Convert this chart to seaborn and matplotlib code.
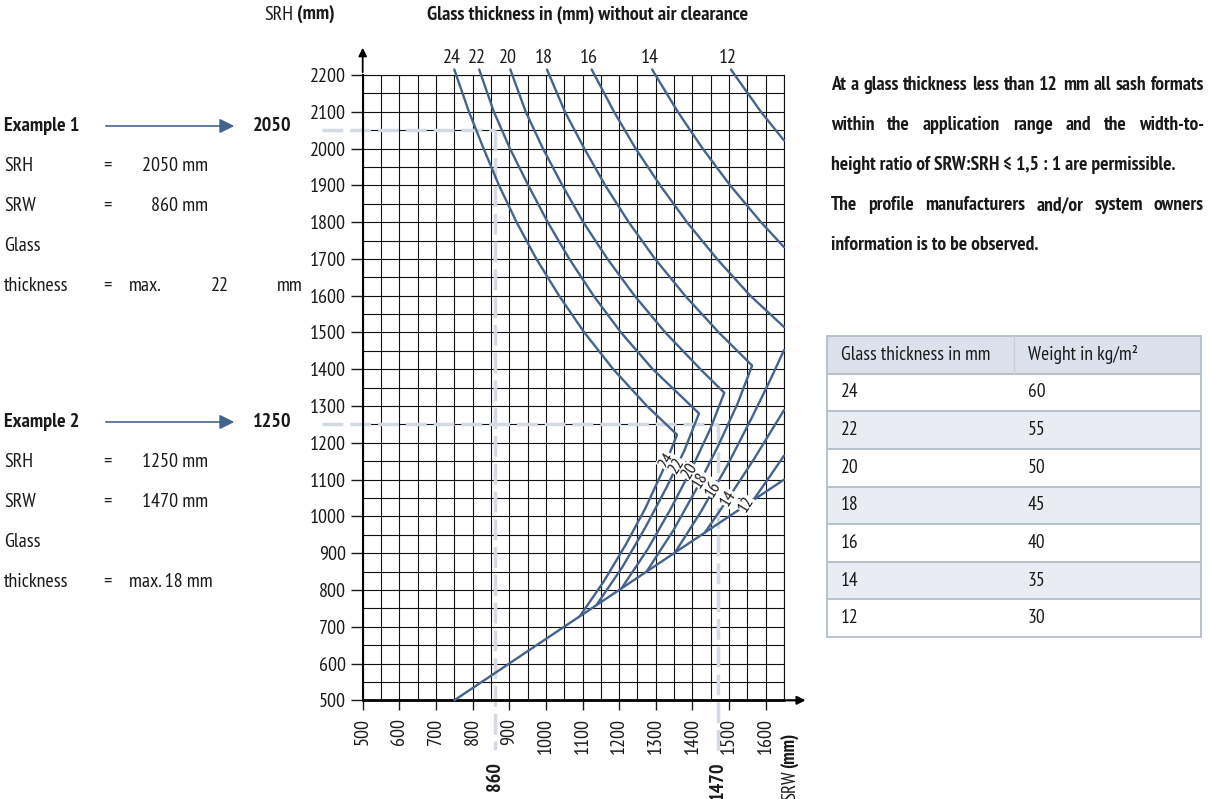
import matplotlib
matplotlib.use("Agg")
import matplotlib.pyplot as plt
import matplotlib.transforms as mtransforms
import numpy as np
import pandas as pd
import seaborn as sns

# glass thickness (mm) and weight (kg/m2)
thickness = [24, 22, 20, 18, 16, 14, 12]
weight = [60, 55, 50, 45, 40, 35, 30]

# limit curves (SRW, SRH in mm), nan = gap at the right edge
srw_24 = [750, 790, 830, 872, 920, 974, 1036, 1105, 1184, 1276, 1358, 1318, 1272, 1218, 1158, 1093]
srh_24 = [2215, 2100, 2000, 1900, 1800, 1700, 1600, 1500, 1400, 1300, 1222, 1122, 1023, 923, 823, 729]
srw_22 = [818, 858, 902, 952, 1005, 1064, 1130, 1205, 1292, 1418, 1378, 1330, 1270, 1208, 1138]
srh_22 = [2215, 2100, 2000, 1900, 1800, 1700, 1600, 1500, 1400, 1280, 1179, 1080, 967, 861, 759]
srw_20 = [903, 945, 992, 1045, 1102, 1168, 1242, 1326, 1422, 1487, 1448, 1400, 1340, 1278, 1207]
srh_20 = [2215, 2100, 2000, 1900, 1800, 1700, 1600, 1500, 1400, 1336, 1236, 1134, 1019, 911, 805]
srw_18 = [1003, 1052, 1105, 1162, 1226, 1298, 1380, 1472, 1563, 1523, 1470, 1410, 1348, 1275]
srh_18 = [2215, 2100, 2000, 1900, 1800, 1700, 1600, 1500, 1410, 1306, 1191, 1073, 962, 850]
srw_16 = [1125, 1186, 1245, 1312, 1385, 1467, 1558, 1650, np.nan, 1650, 1612, 1563, 1495, 1424, 1352]
srh_16 = [2215, 2100, 2000, 1900, 1800, 1700, 1600, 1515, np.nan, 1452, 1370, 1270, 1138, 1014, 901]
srw_14 = [1290, 1360, 1428, 1503, 1587, 1650, np.nan, 1650, 1570, 1500, 1434]
srh_14 = [2215, 2100, 2000, 1900, 1800, 1732, np.nan, 1289, 1159, 1052, 956]
srw_12 = [1505, 1587, 1650, np.nan, 1650, 1610, 1566]
srh_12 = [2215, 2100, 2022, np.nan, 1165, 1107, 1044]

# SRW:SRH = 1.5 : 1 line
ratio_srw = [750, 1650]
ratio_srh = [500, 1100]

# SRH where the thickness label sits on the lower branch
label_srh = [1151, 1137, 1122, 1099, 1074, 1049, 1032]

# worked examples
ex_srh = [2050, 1250]
ex_srw = [860, 1470]
ex_glass = [22, 18]

curve_srw = [srw_24, srw_22, srw_20, srw_18, srw_16, srw_14, srw_12]
curve_srh = [srh_24, srh_22, srh_20, srh_18, srh_16, srh_14, srh_12]

CURVE = "#45638d"
DASH = "#d3dae4"
INK = "#1a1a1a"
FS = 14.5

sns.set_theme(style="white")
plt.rcParams["font.family"] = ["PT Sans Narrow", "Fira Sans Condensed", "DejaVu Sans"]

W, H = 1209, 799
fig = plt.figure(figsize=(W / 100, H / 100), dpi=100)
renderer = fig.canvas.get_renderer()

# overlay in pixel coordinates for the free text
ov = fig.add_axes([0, 0, 1, 1])
ov.set_xlim(0, W)
ov.set_ylim(H, 0)
ov.axis("off")

ax = fig.add_axes([362.7 / W, 1 - 700.3 / H, (784 - 362.7) / W, (700.3 - 75) / H])

# long table of curve segments
rows = []
for t, xs, ys in zip(thickness, curve_srw, curve_srh):
    seg = 0
    for x, y in zip(xs, ys):
        if np.isnan(x):
            seg += 1
            continue
        rows.append({"srw": x, "srh": y, "curve": f"{t}-{seg}"})
for x, y in zip(ratio_srw, ratio_srh):
    rows.append({"srw": x, "srh": y, "curve": "ratio"})
df = pd.DataFrame(rows)

sns.lineplot(data=df, x="srw", y="srh", units="curve", estimator=None, sort=False,
             color=CURVE, lw=1.7, ax=ax, clip_on=False, zorder=3)

ax.set_xlim(500, 1650)
ax.set_ylim(500, 2200)
ax.set_xticks(np.arange(500, 1601, 100))
ax.set_yticks(np.arange(500, 2201, 100))
ax.set_xticks(np.arange(550, 1651, 100), minor=True)
ax.set_yticks(np.arange(550, 2201, 100), minor=True)
ax.set_axisbelow(True)
ax.grid(True, which="both", color="#111111", lw=0.8)
ax.tick_params(which="minor", length=0)
ax.tick_params(axis="y", which="major", direction="out", length=9, width=1, pad=3,
               labelsize=FS, colors=INK, left=True)
ax.tick_params(axis="x", which="major", direction="out", length=7, width=1, pad=6,
               labelsize=FS, colors=INK, bottom=True, labelrotation=90)
ax.set_xlabel("")
ax.set_ylabel("")
for s in ["top", "right"]:
    ax.spines[s].set_linewidth(0.8)
    ax.spines[s].set_color("#111111")
ax.spines["left"].set_linewidth(1.5)
ax.spines["left"].set_color("black")
ax.spines["bottom"].set_linewidth(2)
ax.spines["bottom"].set_color("black")

# axis arrows
ax.annotate("", xy=(0, 1.048), xytext=(0, 1), xycoords="axes fraction",
            arrowprops=dict(arrowstyle="-|>", color="black", lw=1.3, mutation_scale=12),
            annotation_clip=False)
ax.annotate("", xy=(1.058, 0), xytext=(1, 0), xycoords="axes fraction",
            arrowprops=dict(arrowstyle="-|>", color="black", lw=1.6, mutation_scale=12),
            annotation_clip=False)

# example guide lines
x_from = 500 + (322 - 362.7) / 0.3665
y_to = 500 - (750 - 700.3) / 0.3678
for sw, sh in zip(ex_srw, ex_srh):
    ax.plot([x_from, sw], [sh, sh], color=DASH, lw=2.5, ls=(0, (6, 2)), clip_on=False, zorder=2)
    ax.plot([sw, sw], [sh, y_to], color=DASH, lw=2.5, ls=(0, (6, 2)), clip_on=False, zorder=2)

# thickness labels at the top of each curve
for t, xs, ys in zip(thickness, curve_srw, curve_srh):
    ax.annotate(str(t), xy=(xs[0], ys[0]), xytext=(-2, 2), textcoords="offset points",
                ha="center", va="bottom", fontsize=FS, color=INK, annotation_clip=False)

# thickness labels on the lower branches
for t, xs, ys, ly in zip(thickness, curve_srw, curve_srh, label_srh):
    xs = np.asarray(xs, float)
    ys = np.asarray(ys, float)
    gaps = np.where(np.isnan(xs))[0]
    start = gaps[-1] + 1 if len(gaps) else int(np.argmax(xs))
    lx, lyy = xs[start:][::-1], ys[start:][::-1]
    if ly < lyy.min():
        lx_val = np.interp(ly, ratio_srh, ratio_srw)
    else:
        lx_val = np.interp(ly, lyy, lx)
    ax.text(lx_val, ly, str(t), rotation=58, ha="center", va="center", fontsize=12.5,
            color=INK, zorder=4, rotation_mode="anchor",
            bbox=dict(boxstyle="square,pad=0.03", fc="white", ec="none"))

# bottom example values and axis names
bt = mtransforms.blended_transform_factory(ax.transData, ov.transData)
for sw in ex_srw:
    ax.text(sw, 762, str(sw), transform=bt, rotation=90, ha="center", va="top",
            fontsize=FS, fontweight="bold", color=INK, clip_on=False)
mm_v = ov.text(790, 733, "(mm)", rotation=90, ha="center", va="top", fontsize=13.5,
               fontweight="bold", color=INK)
mm_h = mm_v.get_window_extent(renderer).height
ov.text(790, 733 + mm_h + 2, "SRW", rotation=90, ha="center", va="top", fontsize=13.5, color=INK)
ov.text(293, 15, "SRH", ha="right", va="center", fontsize=FS, color=INK)
ov.text(297, 15, "(mm)", ha="left", va="center", fontsize=FS, fontweight="bold", color=INK)
ov.text(588, 15, "Glass thickness in (mm) without air clearance", ha="center", va="center",
        fontsize=FS, fontweight="bold", color=INK)

# left example blocks
for i, (sh, sw, g) in enumerate(zip(ex_srh, ex_srw, ex_glass)):
    y0 = 126 if i == 0 else 422
    ov.text(4, y0, f"Example {i + 1}", ha="left", va="center", fontsize=FS, fontweight="bold", color=INK)
    ov.annotate("", xy=(237, y0), xytext=(103, y0),
                arrowprops=dict(arrowstyle="-|>", color=CURVE, lw=1.2, mutation_scale=22))
    ov.text(253, y0, str(sh), ha="left", va="center", fontsize=FS, fontweight="bold", color=INK)
    ov.text(4, y0 + 40, "SRH", ha="left", va="center", fontsize=FS, color=INK)
    ov.text(107, y0 + 40, "=", ha="center", va="center", fontsize=FS, color=INK)
    ov.text(208, y0 + 40, f"{sh} mm", ha="right", va="center", fontsize=FS, color=INK)
    ov.text(4, y0 + 80, "SRW", ha="left", va="center", fontsize=FS, color=INK)
    ov.text(107, y0 + 80, "=", ha="center", va="center", fontsize=FS, color=INK)
    ov.text(208, y0 + 80, f"{sw} mm", ha="right", va="center", fontsize=FS, color=INK)
    ov.text(4, y0 + 120, "Glass", ha="left", va="center", fontsize=FS, color=INK)
    ov.text(4, y0 + 160, "thickness", ha="left", va="center", fontsize=FS, color=INK)
    ov.text(107, y0 + 160, "=", ha="center", va="center", fontsize=FS, color=INK)
    if i == 0:
        ov.text(129, y0 + 160, "max.", ha="left", va="center", fontsize=FS, color=INK)
        ov.text(220, y0 + 160, str(g), ha="center", va="center", fontsize=FS, color=INK)
        ov.text(277, y0 + 160, "mm", ha="left", va="center", fontsize=FS, color=INK)
    else:
        ov.text(129, y0 + 160, f"max. {g} mm", ha="left", va="center", fontsize=FS, color=INK)

# right paragraph, justified lines
para = [
    ("At a glass thickness less than 12 mm all sash formats", True),
    ("within the application range and the width-to-", True),
    ("height ratio of SRW:SRH \u2264 1,5 : 1 are permissible.", False),
    ("The profile manufacturers and/or system owners", True),
    ("information is to be observed.", False),
]
PFS = 14
x0, x1 = 831, 1204
for k, (line, just) in enumerate(para):
    y = 85 + 40 * k
    if not just:
        ov.text(x0, y, line, ha="left", va="center", fontsize=PFS, fontweight="bold", color=INK)
        continue
    words = line.split(" ")
    texts = [ov.text(x0, y, w, ha="left", va="center", fontsize=PFS, fontweight="bold", color=INK)
             for w in words]
    widths = [t.get_window_extent(renderer).width for t in texts]
    gap = max((x1 - x0 - sum(widths)) / (len(words) - 1), 3)
    x = x0
    for t, w in zip(texts, widths):
        t.set_x(x)
        x += w + gap

# weight table
tax = fig.add_axes([827 / W, 1 - 637 / H, (1201 - 827) / W, (637 - 336) / H])
tax.set_xlim(0, 1)
tax.set_ylim(0, 1)
tax.axis("off")
cells = [[str(t), str(w)] for t, w in zip(thickness, weight)]
tbl = tax.table(cellText=cells, colLabels=["Glass thickness in mm", "Weight in kg/m\u00b2"],
                cellLoc="left", colLoc="left", bbox=[0, 0, 1, 1])
tbl.auto_set_font_size(False)
tbl.set_fontsize(FS - 0.5)
for (r, c), cell in tbl.get_celld().items():
    cell.PAD = 0.075
    cell.set_linewidth(0)
    cell.get_text().set_color(INK)
    if r == 0:
        cell.set_facecolor("#dce2eb")
    else:
        cell.set_facecolor("white" if r % 2 == 1 else "#e9edf3")
nrow = len(thickness) + 1
edge = "#b3becc"
for k in range(nrow + 1):
    tax.plot([0, 1], [k / nrow, k / nrow], color=edge, lw=1.3, zorder=5, clip_on=False)
tax.plot([0, 0], [0, 1], color=edge, lw=1.3, zorder=5, clip_on=False)
tax.plot([1, 1], [0, 1], color=edge, lw=1.3, zorder=5, clip_on=False)
tax.plot([0.5, 0.5], [1 - 1 / nrow, 1], color="#c9d1dc", lw=1.0, zorder=5, clip_on=False)

fig.savefig("out.png", dpi=100)
